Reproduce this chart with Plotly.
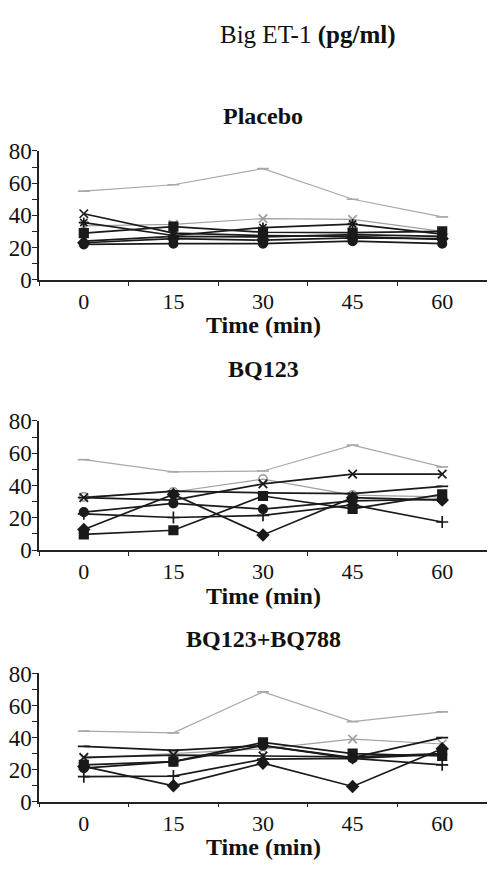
import plotly.graph_objects as go

times = ["0", "15", "30", "45", "60"]
y_ticks = [0, 10, 20, 30, 40, 50, 60, 70, 80]
y_tick_labels = ["0", "", "20", "", "40", "", "60", "", "80"]
group_names = ["Placebo", "BQ123", "BQ123+BQ788"]

# Big ET-1 (pg/ml), one row per subject
placebo = [
    [55, 59, 69, 50, 39],
    [33.5, 34.4, 38, 37.5, 30],
    [41, 29, 27.5, 27, 25],
    [35.5, 27.5, 32.4, 34.6, 28.3],
    [29, 33, 29.5, 29.3, 30],
    [24, 27, 26.6, 28, 27],
    [23, 25.5, 24.6, 26, 25.5],
    [22, 22.5, 22.5, 24, 22.5],
]
bq123 = [
    [56, 48.5, 49, 65, 51.5],
    [33, 36, 44, 34, 33],
    [32.5, 31, 41, 47, 47],
    [32.5, 36.5, 35.5, 35, 39.5],
    [12.8, 34.5, 9.4, 32.5, 31],
    [23.5, 29, 25.4, 30.5, 31.5],
    [22.5, 20.2, 21.5, 28, 17.4],
    [9.8, 12.3, 33.5, 25.5, 34.5],
]
bq123_bq788 = [
    [44, 43, 68.5, 50, 56],
    [27, 30, 33, 39, 36],
    [34.5, 32, 35, 27.5, 40],
    [23, 25, 37, 30, 28.5],
    [21, 25, 35, 27, 29.5],
    [27.7, 29, 28.5, 28, 30],
    [15.6, 16, 26.5, 27, 23],
    [22, 9.9, 24, 9.5, 33],
]
groups = [placebo, bq123, bq123_bq788]

# styles (not data)
line_colors = ["#a8a8a8", "#a0a0a0", "#1a1a1a", "#1a1a1a", "#1a1a1a", "#1a1a1a", "#1a1a1a", "#1a1a1a"]
line_widths = [1.2, 1.2, 1.7, 1.7, 1.7, 1.7, 1.7, 1.7]
symbols_by_group = [
    ["line-ew-open", "x-thin-open", "x-thin-open", "asterisk-open", "square", "triangle-up", "diamond", "circle"],
    ["line-ew-open", "circle-open", "x-thin-open", "line-ew-open", "diamond", "circle", "cross-thin-open", "square"],
    ["line-ew-open", "x-thin-open", "line-ew-open", "square", "circle", "x-thin-open", "cross-thin-open", "diamond"],
]

W, H = 491, 872
x_dom = [39 / W, 487 / W]
# pixel rows of the 80 and 0 levels for each panel
panel_px = [(143, 275.7), (421, 554), (681, 813)]
title_px = [107, 368, 646]

FONT = "Liberation Serif"
fig = go.Figure()

layout = {}
annotations = []
for gi, (data, (top, bot)) in enumerate(zip(groups, panel_px)):
    idx = "" if gi == 0 else str(gi + 1)
    xa, ya = "x" + idx, "y" + idx
    for si, row in enumerate(data):
        sym = symbols_by_group[gi][si]
        fig.add_trace(go.Scatter(
            x=times, y=row, xaxis=xa, yaxis=ya, mode="lines+markers",
            line=dict(color=line_colors[si], width=line_widths[si]),
            marker=dict(symbol=sym, size=8.5, color=line_colors[si],
                        line=dict(color=line_colors[si], width=1.7)),
            showlegend=False, hoverinfo="skip",
        ))
    y_dom = [1 - bot / H, 1 - top / H]
    layout["xaxis" + idx] = dict(
        domain=x_dom, anchor=ya, type="category", range=[-0.5, 4.5],
        tickson="boundaries", ticks="outside", ticklen=4, tickwidth=1.3,
        tickcolor="#222", showline=True, linecolor="#222", linewidth=1.5,
        showgrid=False, zeroline=False,
        tickfont=dict(family=FONT, size=22, color="#111"),
        ticklabelstandoff=1,
    )
    layout["yaxis" + idx] = dict(
        domain=y_dom, anchor=xa, range=[0, 80], tickvals=y_ticks,
        ticktext=y_tick_labels, ticks="outside", ticklen=5, tickwidth=1.3,
        tickcolor="#222", showline=True, linecolor="#222", linewidth=1.5,
        showgrid=False, zeroline=False,
        tickfont=dict(family=FONT, size=23, color="#111"),
        ticklabelstandoff=-4,
    )
    ph = bot - top
    annotations.append(dict(
        text="<b>Time (min)</b>", xref=xa + " domain", yref=ya + " domain",
        x=0.5, y=-47 / ph, xanchor="center", yanchor="middle", showarrow=False,
        font=dict(family=FONT, size=24, color="#111"),
    ))
    annotations.append(dict(
        text="<b>" + group_names[gi] + "</b>", xref=xa + " domain", yref="paper",
        x=0.5, y=1 - title_px[gi] / H, xanchor="center", yanchor="middle",
        showarrow=False, font=dict(family=FONT, size=24, color="#111"),
    ))

annotations.append(dict(
    text="Big ET-1 <b>(pg/ml)</b>", xref="paper", yref="paper",
    x=307 / W, y=1 - 24 / H, xanchor="center", yanchor="middle",
    showarrow=False, font=dict(family=FONT, size=25, color="#111"),
))

fig.update_layout(
    width=W, height=H, margin=dict(l=0, r=0, t=0, b=0),
    paper_bgcolor="white", plot_bgcolor="white",
    annotations=annotations, **layout,
)
fig.write_html("out.html")
